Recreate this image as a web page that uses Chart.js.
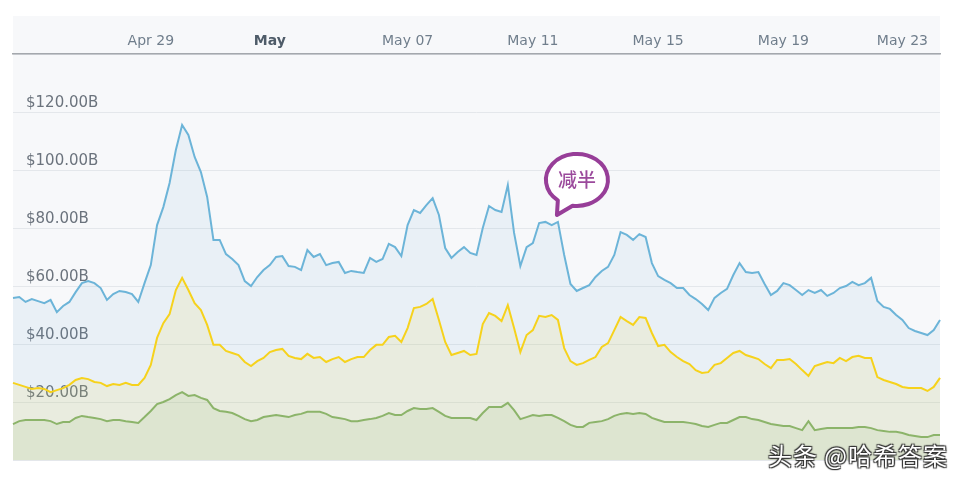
<!DOCTYPE html>
<html>
<head>
<meta charset="utf-8">
<script src="https://cdn.jsdelivr.net/npm/chart.js@4/dist/chart.umd.min.js"></script>
<style>
  body { margin: 0; background: #ffffff; }
  #wrap { position: relative; width: 963px; height: 478px; }
  #mark {
    position: absolute; right: 15px; top: 437px;
    font: 24px "Noto Sans CJK SC", sans-serif; color: #ffffff; letter-spacing: 1px;
    text-shadow: 1px 1px 1px #333, -1px -1px 1px #333, 1px -1px 1px #333, -1px 1px 1px #333;
    white-space: nowrap;
  }
</style>
</head>
<body>
<div id="wrap">
  <canvas id="chart" width="963" height="478"></canvas>
  <div id="mark">头条 @哈希答案</div>
</div>
<script>
// values in billions of USD (5 samples per day)
const blueValues = [
  55.9, 56.2, 54.5, 55.5, 54.8, 54.1, 55.2, 51.0, 53.1, 54.5,
  57.9, 61.0, 61.7, 61.0, 59.3, 55.2, 57.2, 58.3, 57.9, 57.2,
  54.5, 61.0, 67.2, 81.0, 87.2, 95.5, 106.9, 115.5, 112.1, 104.5,
  99.3, 90.7, 75.9, 75.9, 71.0, 69.3, 67.2, 61.7, 60.0, 63.1,
  65.5, 67.2, 70.0, 70.3, 66.9, 66.6, 65.5, 72.4, 70.0, 71.0,
  67.2, 67.9, 68.3, 64.5, 65.2, 64.8, 64.5, 69.7, 68.3, 69.3,
  74.5, 73.4, 70.3, 81.0, 86.2, 85.2, 87.9, 90.3, 84.5, 73.1,
  69.7, 71.7, 73.4, 71.4, 70.7, 80.0, 87.6, 86.2, 85.5, 94.8,
  78.3, 66.9, 73.4, 74.8, 81.7, 82.1, 81.0, 82.1, 70.7, 60.7,
  58.3, 59.3, 60.3, 63.1, 65.2, 66.6, 70.7, 78.6, 77.6, 75.9,
  77.9, 76.9, 67.9, 63.4, 62.1, 61.0, 59.3, 59.3, 56.9, 55.5,
  53.8, 51.7, 55.9, 57.6, 59.0, 63.8, 67.9, 64.8, 64.5, 64.8,
  60.7, 56.9, 58.3, 61.0, 60.3, 58.6, 56.9, 58.6, 57.6, 58.6,
  56.6, 57.6, 59.3, 60.0, 61.4, 60.3, 61.0, 62.8, 54.8, 52.8,
  52.1, 50.0, 48.3, 45.5, 44.5, 43.8, 43.1, 44.8, 48.3
]
const yellowValues = [
  26.6, 25.9, 25.2, 24.5, 24.8, 24.5, 23.4, 24.1, 24.8, 25.9,
  27.6, 28.3, 27.9, 26.9, 26.6, 25.5, 26.2, 25.9, 26.6, 25.9,
  25.9, 28.3, 32.8, 42.1, 47.2, 50.3, 58.6, 62.8, 58.6, 54.1,
  51.7, 46.6, 39.7, 39.7, 37.6, 36.9, 36.2, 33.8, 32.4, 34.1,
  35.2, 37.2, 37.9, 38.3, 35.9, 35.2, 34.8, 36.6, 35.2, 35.5,
  33.8, 34.8, 35.5, 33.8, 34.8, 35.5, 35.5, 37.9, 39.7, 39.7,
  42.4, 42.8, 40.7, 45.5, 52.4, 52.8, 53.8, 55.5, 48.3, 40.7,
  36.2, 36.9, 37.6, 36.2, 36.6, 46.9, 50.7, 49.7, 47.9, 53.4,
  45.5, 37.2, 43.1, 44.8, 49.7, 49.3, 50.0, 48.3, 38.6, 34.1,
  32.8, 33.4, 34.5, 35.5, 39.0, 40.3, 44.8, 49.3, 47.9, 46.6,
  49.3, 49.0, 43.8, 39.3, 39.7, 37.2, 35.5, 34.1, 33.1, 31.0,
  30.0, 30.3, 32.8, 33.4, 35.2, 36.9, 37.6, 36.2, 35.5, 34.8,
  33.1, 31.7, 34.5, 34.5, 34.8, 33.1, 31.0, 29.0, 32.4, 33.1,
  33.8, 33.4, 35.2, 34.1, 35.5, 35.9, 35.2, 35.2, 28.6, 27.6,
  26.9, 26.2, 25.2, 24.8, 24.8, 24.8, 23.8, 25.2, 28.3
]
const greenValues = [
  12.4, 13.4, 13.8, 13.8, 13.8, 13.8, 13.4, 12.4, 13.1, 13.1,
  14.5, 15.2, 14.8, 14.5, 14.1, 13.4, 13.8, 13.8, 13.4, 13.1,
  12.8, 14.8, 16.9, 19.3, 20.0, 21.0, 22.4, 23.4, 22.1, 22.4,
  21.4, 20.7, 17.9, 16.9, 16.6, 16.2, 15.2, 14.1, 13.4, 13.8,
  14.8, 15.2, 15.5, 15.2, 14.8, 15.5, 15.9, 16.6, 16.6, 16.6,
  15.9, 14.8, 14.5, 14.1, 13.4, 13.4, 13.8, 14.1, 14.5, 15.2,
  16.2, 15.5, 15.5, 16.9, 17.9, 17.6, 17.6, 17.9, 16.6, 15.2,
  14.5, 14.5, 14.5, 14.5, 13.8, 16.2, 18.3, 18.3, 18.3, 19.7,
  17.2, 14.1, 14.8, 15.5, 15.2, 15.5, 15.5, 14.5, 13.4, 12.1,
  11.4, 11.4, 12.8, 13.1, 13.4, 14.1, 15.2, 15.9, 16.2, 15.9,
  16.2, 15.9, 14.5, 13.8, 13.1, 13.1, 13.1, 13.1, 12.8, 12.4,
  11.7, 11.4, 12.1, 12.8, 12.8, 13.8, 14.8, 14.8, 14.1, 13.8,
  13.1, 12.4, 12.1, 11.7, 11.7, 11.0, 10.3, 13.4, 10.3, 10.7,
  11.0, 11.0, 11.0, 11.0, 11.0, 11.4, 11.4, 11.0, 10.3, 10.0,
  9.7, 9.7, 9.3, 8.6, 8.3, 7.9, 7.9, 8.6, 8.6
]

const tickLabels = ["Apr 29", "May", "May 07", "May 11", "May 15", "May 19", "May 23"]
const tickIndex = [22, 41, 63, 83, 103, 123, 142]
const monthLabel = "May"
const noteText = "减半"
const noteIndex = 87

// one sample every 4.8 hours, starting Apr 24 2020 12:00
const startTime = Date.UTC(2020, 3, 24, 12)
const categories = blueValues.map((_, i) => {
  const d = new Date(startTime + i * 4.8 * 3600 * 1000)
  return d.toISOString().slice(0, 16).replace("T", " ")
})

const plotBackground = {
  id: "plotBackground",
  beforeDraw(chart) {
    const {ctx, chartArea, scales} = chart
    ctx.save()
    ctx.fillStyle = "#f7f8fa"
    ctx.fillRect(chartArea.left, scales.x.top, chartArea.right - chartArea.left, chartArea.bottom - scales.x.top)
    ctx.restore()
  }
}

// speech bubble pointing at the halving
const halvingNote = {
  id: "halvingNote",
  afterDatasetsDraw(chart) {
    const ctx = chart.ctx
    const pt = chart.getDatasetMeta(0).data[noteIndex]
    const tipX = pt.x - 1, tipY = pt.y - 7
    const cx = tipX + 20, cy = tipY - 35
    const deg = Math.PI / 180
    ctx.save()
    ctx.beginPath()
    ctx.ellipse(cx, cy, 31, 26, 0, 128 * deg, 458 * deg)
    ctx.lineTo(tipX, tipY)
    ctx.closePath()
    ctx.fillStyle = "#ffffff"
    ctx.fill()
    ctx.lineWidth = 4
    ctx.lineJoin = "round"
    ctx.strokeStyle = "#973e98"
    ctx.stroke()
    ctx.fillStyle = "#9b4a9c"
    ctx.font = "500 19px 'Noto Sans CJK SC'"
    ctx.textAlign = "center"
    ctx.textBaseline = "middle"
    ctx.fillText(noteText, cx, cy)
    ctx.restore()
  }
}

const isMonth = (ctx) => ctx.tick && ctx.tick.label === monthLabel

const data = {
  labels: categories,
  datasets: [
    {
      data: blueValues,
      borderColor: "#6cb4d8",
      backgroundColor: "rgba(100, 170, 215, 0.09)",
      fill: "origin",
      order: 3
    },
    {
      data: yellowValues,
      borderColor: "#f6d21c",
      backgroundColor: "rgba(235, 215, 60, 0.12)",
      fill: "origin",
      order: 2
    },
    {
      data: greenValues,
      borderColor: "#8cb46a",
      backgroundColor: "rgba(120, 170, 80, 0.10)",
      fill: "origin",
      order: 1
    }
  ]
}

const config = {
  type: "line",
  data: data,
  plugins: [plotBackground, halvingNote],
  options: {
    responsive: false,
    animation: false,
    layout: {padding: {left: 13, right: 23, top: 16, bottom: 18}},
    elements: {
      point: {radius: 0},
      line: {borderWidth: 2, tension: 0}
    },
    plugins: {
      legend: {display: false},
      tooltip: {enabled: false}
    },
    scales: {
      x: {
        position: "top",
        grid: {display: false, drawTicks: false},
        border: {color: "#a4a8ad", width: 1.5},
        ticks: {
          autoSkip: false,
          maxRotation: 0,
          padding: 4,
          callback: (v, i) => {
            const k = tickIndex.indexOf(i)
            return k >= 0 ? tickLabels[k] : null
          },
          font: (ctx) => ({
            family: "DejaVu Sans",
            size: 14,
            weight: isMonth(ctx) ? "bold" : "normal"
          }),
          color: (ctx) => isMonth(ctx) ? "#4f5c69" : "#707e8c"
        },
        afterFit: (scale) => {
          scale.height = 38
          scale.paddingLeft = 0
          scale.paddingRight = 0
        }
      },
      y: {
        min: 0,
        max: 140,
        border: {display: false},
        grid: {color: "#e4e7eb", drawTicks: false},
        ticks: {
          stepSize: 20,
          mirror: true,
          padding: 13,
          labelOffset: -9,
          color: "#6b737d",
          font: {family: "DejaVu Sans", size: 15},
          callback: (v) => (v > 0 && v < 140) ? "$" + v.toFixed(2) + "B" : ""
        },
        afterFit: (scale) => {
          scale.width = 0
          scale.paddingTop = 0
          scale.paddingBottom = 0
        }
      }
    }
  }
}

const volumeChart = new Chart(document.getElementById("chart"), config)
</script>
</body>
</html>
